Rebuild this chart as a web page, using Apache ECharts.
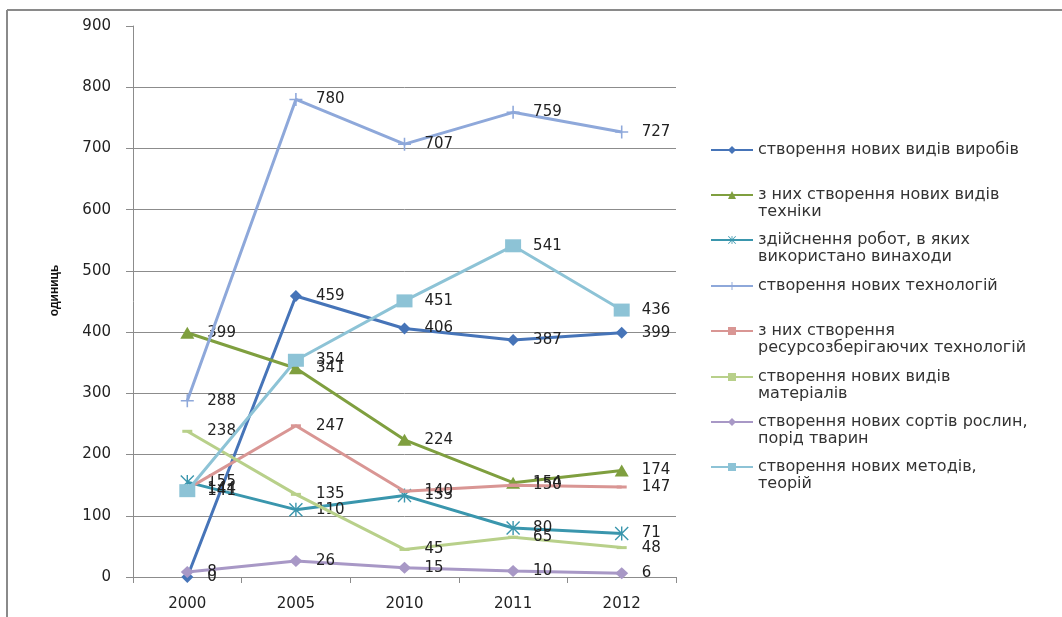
<!DOCTYPE html>
<html><head><meta charset="utf-8">
<script src="https://cdn.jsdelivr.net/npm/echarts@6/dist/echarts.min.js"></script>
<style>html,body{margin:0;padding:0;background:#fff}#c{width:1062px;height:617px}</style>
</head><body><div id="c"></div>
<script>
// ---- data ----
const years = ['2000', '2005', '2010', '2011', '2012'];
const yMin = 0, yMax = 900, yStep = 100;
const yAxisTitle = 'одиниць';

const products       = [0, 459, 406, 387, 399];
const machinery      = [399, 341, 224, 154, 174];
const inventions     = [155, 110, 133, 80, 71];
const technologies   = [288, 780, 707, 759, 727];
const resourceSaving = [144, 247, 140, 150, 147];
const materials      = [238, 135, 45, 65, 48];
const varieties      = [8, 26, 15, 10, 6];
const methods        = [141, 354, 451, 541, 436];

const seriesNames = [
  'створення нових видів виробів',
  'з них створення нових видів техніки',
  'здійснення робот, в яких використано винаходи',
  'створення нових технологій',
  'з них створення ресурсозберігаючих технологій',
  'створення нових видів матеріалів',
  'створення нових сортів рослин, порід тварин',
  'створення нових методів, теорій'
];
const legendText = [
  'створення нових видів виробів',
  'з них створення нових видів\nтехніки',
  'здійснення робот, в яких\nвикористано винаходи',
  'створення нових технологій',
  'з них створення\nресурсозберігаючих технологій',
  'створення нових видів\nматеріалів',
  'створення нових сортів рослин,\nпорід тварин',
  'створення нових методів,\nтеорій'
];
const allData = [products, machinery, inventions, technologies, resourceSaving, materials, varieties, methods];

// ---- styles ----
const colors = ['#4674B8', '#7F9F3F', '#3A96AD', '#8EA8DA', '#D99694', '#B8D08A', '#A898C6', '#8DC3D6'];
const asterisk = 'path://M-0.5,-5L0.5,-5L0.5,5L-0.5,5Z M-5,-4.3L-4.3,-5L5,4.3L4.3,5Z M4.3,-5L5,-4.3L-4.3,5L-5,4.3Z';
const plus = 'path://M-0.6,-5L0.6,-5L0.6,5L-0.6,5Z M-5,-0.6L5,-0.6L5,0.6L-5,0.6Z';
const symbols = ['diamond', 'triangle', asterisk, plus, 'rect', 'rect', 'diamond', 'rect'];
const symbolSizes = [[12, 12], [14, 12], [14, 14], [13, 13], [10, 3], [10, 3], [13, 12], [16, 13]];
const legendCenters = [150, 195, 240, 286, 331, 377, 422, 467];
const LH = 17;
const font = 'DejaVu Sans';

const series = seriesNames.map((n, i) => ({
  name: n,
  type: 'line',
  data: allData[i],
  symbol: symbols[i],
  symbolSize: symbolSizes[i],
  showSymbol: true,
  lineStyle: { width: 3, color: colors[i] },
  itemStyle: { color: colors[i] },
  z: 2 + i,
  label: {
    show: true,
    position: 'right',
    distance: 20 - symbolSizes[i][0] / 2,
    color: '#222',
    fontFamily: font,
    fontSize: 15
  },
  emphasis: { disabled: true },
  animation: false
}));

const legends = seriesNames.map((n, i) => {
  const twoLine = legendText[i].indexOf('\n') >= 0;
  return {
    data: [n],
    left: 710,
    top: twoLine ? legendCenters[i] - LH * 1.5 : legendCenters[i] - LH / 2,
    orient: 'vertical',
    itemWidth: 42,
    itemHeight: 10,
    padding: 0,
    selectedMode: false,
    formatter: () => (twoLine ? ' \n' : '') + legendText[i],
    textStyle: {
      fontFamily: font,
      fontSize: 16,
      color: '#333',
      lineHeight: LH
    }
  };
});

const chart = echarts.init(document.getElementById('c'), null, { renderer: 'canvas' });
chart.setOption({
  backgroundColor: '#fff',
  animation: false,
  graphic: [
    { type: 'line', shape: { x1: 7, y1: 10, x2: 1062, y2: 10 }, style: { stroke: '#8a8a8a', lineWidth: 2 } },
    { type: 'line', shape: { x1: 7, y1: 10, x2: 7, y2: 617 }, style: { stroke: '#8a8a8a', lineWidth: 2 } }
  ],
  grid: { left: 133, right: 386, top: 26, bottom: 40, containLabel: false },
  legend: legends,
  xAxis: {
    type: 'category',
    data: years,
    boundaryGap: true,
    axisLine: { lineStyle: { color: '#8c8c8c', width: 1 } },
    axisTick: { show: true, length: 6, lineStyle: { color: '#8c8c8c' } },
    axisLabel: { color: '#222', fontFamily: font, fontSize: 15, margin: 20 }
  },
  yAxis: {
    type: 'value',
    min: yMin, max: yMax, interval: yStep,
    name: yAxisTitle,
    nameLocation: 'middle',
    nameRotate: 90,
    nameGap: 72,
    nameTextStyle: { fontFamily: 'Liberation Sans', fontWeight: 'bold', fontSize: 12, color: '#111', padding: [0, 0, 0, 22] },
    axisLine: { show: true, lineStyle: { color: '#8c8c8c', width: 1 } },
    axisTick: { show: true, length: 7, lineStyle: { color: '#8c8c8c' } },
    axisLabel: { color: '#222', fontFamily: font, fontSize: 15, margin: 22 },
    splitLine: { show: true, showMaxLine: false, lineStyle: { color: '#8c8c8c', width: 1 } }
  },
  series: series
});
</script>
</body></html>
